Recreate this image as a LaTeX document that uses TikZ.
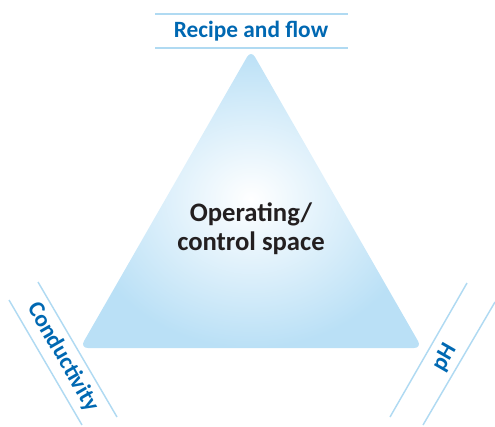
\documentclass[tikz,border=0pt]{standalone}
\usepackage{fontspec}
\setmainfont{Carlito}
\usetikzlibrary{positioning}

\definecolor{labelblue}{RGB}{0,104,178}
\definecolor{rulecol}{RGB}{176,218,242}
\definecolor{spaceblue}{RGB}{186,224,246}
\definecolor{darktext}{RGB}{35,31,32}

\begin{document}
\begin{tikzpicture}[x=0.75pt,y=-0.75pt,
    axislabel/.style={font=\bfseries\fontsize{17.5}{20}\selectfont,text=labelblue,
		inner sep=0pt},
    rule/.style={rulecol,line width=1.1pt},
    space/.style={rounded corners=6pt,inner color=white,outer color=spaceblue},
    centre/.style={font=\bfseries\fontsize{20}{22}\selectfont,text=darktext,
		align=center}
    ]
    \useasboundingbox (0,0) rectangle (495,426);

    % Corners of the triangle
    \coordinate (apex) at (251,50);
    \coordinate (left) at (80,348);
    \coordinate (right) at (422,348);

    % Triangle
    \shade [space] (apex) -- (right) -- (left) -- cycle;

    % Place nodes
    \node [centre] (op) at (251,229) {Operating/\\control space};
    \node [axislabel] (recipe) at (251,31) {Recipe and flow};
    \node [axislabel,rotate=-60] (cond) at (63,357) {Conductivity};
    \node [axislabel,rotate=60] (ph) at (445,358) {pH};

    % Rules round the labels
    \coordinate (t1) at (155,14);  \coordinate (t2) at (348,14);
    \coordinate (t3) at (155,48);  \coordinate (t4) at (348,48);
    \coordinate (l1) at (9,300);   \coordinate (l2) at (82,425);
    \coordinate (l3) at (38,282);  \coordinate (l4) at (117,417);
    \coordinate (r1) at (467,283); \coordinate (r2) at (390,417);
    \coordinate (r3) at (495,302); \coordinate (r4) at (423,425);

    \draw [rule] (t1) -- (t2);
    \draw [rule] (t3) -- (t4);
    \draw [rule] (l1) -- (l2);
    \draw [rule] (l3) -- (l4);
    \draw [rule] (r1) -- (r2);
    \draw [rule] (r3) -- (r4);
\end{tikzpicture}
\end{document}
